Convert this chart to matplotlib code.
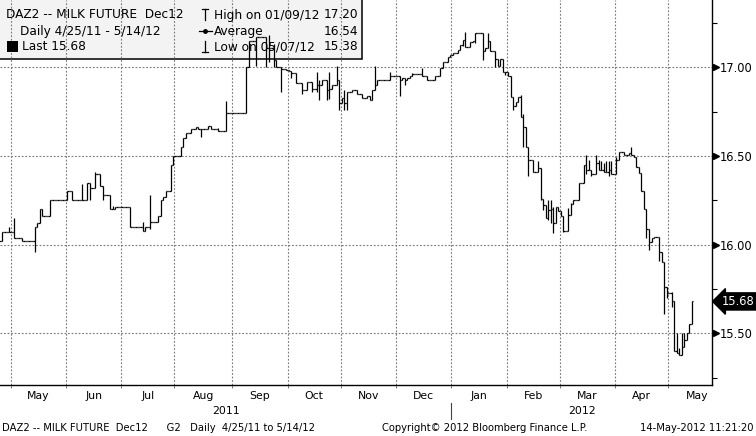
import matplotlib
matplotlib.use("Agg")
import matplotlib.pyplot as plt
import matplotlib.transforms as mtransforms
from matplotlib.patches import Rectangle
import numpy as np
import pandas as pd

# daily settles, one list per month (business days)
close_apr11 = [16.02, 16.07, 16.07, 16.07, 16.07]
close_may11 = [16.07, 16.04, 16.04, 16.04, 16.02, 16.02, 16.02, 16.02, 16.02, 16.10, 16.12,
               16.20, 16.16, 16.16, 16.16, 16.25, 16.25, 16.25, 16.25, 16.25, 16.25, 16.25]
close_jun11 = [16.30, 16.30, 16.25, 16.25, 16.25, 16.25, 16.25, 16.25, 16.35, 16.32, 16.32,
               16.40, 16.40, 16.33, 16.28, 16.28, 16.28, 16.20, 16.20, 16.21, 16.21, 16.21]
close_jul11 = [16.21, 16.21, 16.21, 16.10, 16.10, 16.10, 16.10, 16.10, 16.08, 16.10, 16.10,
               16.13, 16.13, 16.13, 16.16, 16.25, 16.27, 16.30, 16.30, 16.45, 16.50]
close_aug11 = [16.50, 16.50, 16.55, 16.60, 16.63, 16.63, 16.65, 16.65, 16.665, 16.65, 16.65, 16.65,
               16.65, 16.67, 16.65, 16.65, 16.65, 16.64, 16.64, 16.64, 16.74, 16.74, 16.74]
close_sep11 = [16.74, 16.74, 16.74, 16.74, 16.74, 17.00, 17.15, 17.15, 17.15, 17.17, 17.17,
               17.17, 17.17, 17.11, 17.11, 17.11, 17.04, 17.00, 17.00, 16.99, 16.99, 16.985]
close_oct11 = [16.98, 16.97, 16.97, 16.91, 16.91, 16.875, 16.875, 16.92, 16.92, 16.88, 16.88,
               16.90, 16.90, 16.93, 16.93, 16.87, 16.88, 16.90, 16.90, 16.93, 16.80]
close_nov11 = [16.83, 16.80, 16.86, 16.86, 16.87, 16.87, 16.85, 16.85, 16.83, 16.83, 16.84,
               16.815, 16.87, 16.90, 16.93, 16.93, 16.93, 16.93, 16.93, 16.95, 16.95, 16.95]
close_dec11 = [16.95, 16.93, 16.94, 16.93, 16.94, 16.95, 16.96, 16.965, 16.965, 16.965, 16.95,
               16.95, 16.93, 16.93, 16.93, 16.95, 16.95, 16.995, 17.03, 17.03, 17.06, 17.07]
close_jan12 = [17.08, 17.08, 17.10, 17.125, 17.155, 17.115, 17.115, 17.145, 17.15, 17.195, 17.195,
               17.195, 17.09, 17.11, 17.15, 17.09, 17.09, 17.05, 17.01, 17.05, 16.975, 16.975]
close_feb12 = [16.95, 16.835, 16.78, 16.805, 16.835, 16.72, 16.665, 16.55, 16.475, 16.475, 16.41,
               16.41, 16.43, 16.26, 16.225, 16.15, 16.195, 16.20, 16.12, 16.21, 16.19]
close_mar12 = [16.16, 16.08, 16.08, 16.17, 16.23, 16.25, 16.25, 16.35, 16.35, 16.45, 16.42,
               16.42, 16.40, 16.40, 16.46, 16.42, 16.42, 16.41, 16.41, 16.42, 16.40, 16.40]
close_apr12 = [16.475, 16.525, 16.52, 16.505, 16.505, 16.515, 16.505, 16.495, 16.44, 16.405, 16.30,
               16.20, 16.09, 16.015, 16.035, 16.045, 16.045, 15.96, 15.905, 15.76, 15.725]
close_may12 = [15.73, 15.685, 15.40, 15.387, 15.38, 15.424, 15.46, 15.50, 15.55, 15.68]

# days where the high / low pokes out past open and close
spike_high = {
    "2011-04-29": 16.10, "2011-05-03": 16.15, "2011-06-09": 16.34, "2011-06-16": 16.41,
    "2011-06-27": 16.22, "2011-07-13": 16.13, "2011-07-18": 16.28, "2011-08-24": 16.66,
    "2011-08-29": 16.81, "2011-09-21": 17.18, "2011-09-23": 17.13, "2011-10-18": 16.975,
    "2011-10-19": 16.93, "2011-10-25": 16.975, "2011-10-28": 17.01, "2011-11-02": 16.87,
    "2011-11-18": 17.01, "2011-11-28": 16.975, "2011-12-09": 16.97, "2011-12-15": 16.995,
    "2012-01-09": 17.20, "2012-01-20": 17.195, "2012-02-08": 16.845, "2012-02-09": 16.735,
    "2012-02-13": 16.49, "2012-02-17": 16.47, "2012-02-23": 16.25, "2012-02-24": 16.25,
    "2012-02-27": 16.21, "2012-03-02": 16.12, "2012-03-06": 16.205, "2012-03-07": 16.235,
    "2012-03-15": 16.505, "2012-03-16": 16.48, "2012-03-21": 16.505, "2012-03-22": 16.48,
    "2012-03-23": 16.47, "2012-03-26": 16.46, "2012-03-27": 16.47, "2012-03-28": 16.47,
    "2012-03-29": 16.47, "2012-04-02": 16.495, "2012-04-10": 16.55, "2012-04-25": 16.005,
    "2012-04-27": 15.83, "2012-04-30": 15.76, "2012-05-02": 15.735, "2012-05-04": 15.50,
    "2012-05-07": 15.42, "2012-05-08": 15.50, "2012-05-09": 15.50,
}
spike_low = {
    "2011-05-13": 15.96, "2011-06-14": 16.25, "2011-06-21": 16.25, "2011-07-18": 16.09,
    "2011-08-15": 16.61, "2011-09-14": 17.01, "2011-09-20": 17.00, "2011-09-21": 17.03,
    "2011-09-23": 17.00, "2011-09-28": 16.86, "2011-10-04": 16.94, "2011-10-10": 16.85,
    "2011-10-14": 16.86, "2011-10-18": 16.86, "2011-10-19": 16.815, "2011-10-24": 16.815,
    "2011-10-25": 16.82, "2011-10-31": 16.76, "2011-11-02": 16.76, "2011-11-03": 16.76,
    "2011-12-02": 16.84, "2011-12-06": 16.90, "2012-01-06": 17.12, "2012-01-13": 17.135,
    "2012-01-18": 17.04, "2012-01-25": 17.00, "2012-01-31": 16.955, "2012-02-03": 16.76,
    "2012-02-09": 16.55, "2012-02-13": 16.39, "2012-02-20": 16.25, "2012-02-21": 16.195,
    "2012-02-23": 16.14, "2012-02-24": 16.12, "2012-02-27": 16.065, "2012-03-02": 16.07,
    "2012-03-15": 16.40, "2012-03-19": 16.39, "2012-03-28": 16.39, "2012-04-02": 16.40,
    "2012-04-18": 16.035, "2012-04-19": 15.97, "2012-04-25": 15.91, "2012-04-27": 15.61,
    "2012-04-30": 15.70, "2012-05-02": 15.65, "2012-05-07": 15.38, "2012-05-11": 15.50,
}

y_ticks = [15.50, 16.00, 16.50, 17.00]
y_minor = [15.25, 15.75, 16.25, 16.75, 17.25]
year_labels = ["2011", "2012"]
last_price = "15.68"

legend_left = ["DAZ2 -- MILK FUTURE  Dec12", "Daily 4/25/11 - 5/14/12", "Last 15.68"]
legend_right = ["High on 01/09/12", "Average", "Low on 05/07/12"]
legend_vals = ["17.20", "16.54", "15.38"]
footer_left = "DAZ2 -- MILK FUTURE  Dec12      G2   Daily  4/25/11 to 5/14/12"
footer_mid = "Copyright\u00a9 2012 Bloomberg Finance L.P."
footer_right = "14-May-2012 11:21:20"

closes = np.array(close_apr11 + close_may11 + close_jun11 + close_jul11 + close_aug11
                  + close_sep11 + close_oct11 + close_nov11 + close_dec11 + close_jan12
                  + close_feb12 + close_mar12 + close_apr12 + close_may12)
days = pd.bdate_range("2011-04-25", periods=len(closes))
x = np.arange(len(closes))
opens = np.r_[closes[0], closes[:-1]]
highs = np.maximum(opens, closes)
lows = np.minimum(opens, closes)
for d, v in spike_high.items():
    i = days.get_loc(pd.Timestamp(d))
    highs[i] = max(highs[i], v)
for d, v in spike_low.items():
    i = days.get_loc(pd.Timestamp(d))
    lows[i] = min(lows[i], v)

# axis runs on to the end of May 2012
axis_days = pd.bdate_range("2011-04-25", "2012-05-31")
month_key = axis_days.year * 12 + axis_days.month
starts = np.flatnonzero(np.diff(month_key)) + 1
ends = np.r_[starts[1:], len(axis_days)]

W, H = 756, 436
AX_W, AX_H = 711.7, 385.3
fig = plt.figure(figsize=(W / 100, H / 100), dpi=100)
ax = fig.add_axes([0, 1 - AX_H / H, AX_W / W, AX_H / H])


def ax_px(px, py):
    # pixel position in the figure -> axes fraction
    return px / AX_W, 1 - py / AX_H


ax.set_xlim(0.25, 282.9)
ax.set_ylim(15.207, 17.380)

grid_kw = dict(color="#7a7a7a", lw=0.8, dashes=(1.6, 1.6), zorder=1)
for s in starts:
    ax.axvline(s - 0.5, **grid_kw)
for v in y_ticks:
    ax.axhline(v, **grid_kw)

bar_kw = dict(color="black", lw=0.9, zorder=3)
ax.vlines(x, lows, highs, **bar_kw)
ax.hlines(opens, x - 0.5, x, **bar_kw)
ax.hlines(closes, x, x + 0.5, **bar_kw)

# spines / ticks
for side in ["left", "top"]:
    ax.spines[side].set_visible(False)
for side in ["right", "bottom"]:
    ax.spines[side].set_linewidth(1.0)
ax.yaxis.tick_right()
ax.set_yticks(y_ticks)
ax.set_yticklabels(["%.2f" % v for v in y_ticks], fontsize=8.3)
ax.set_yticks(y_minor, minor=True)
ax.tick_params(axis="y", which="major", length=0, pad=6)
ax.tick_params(axis="y", which="minor", length=3.6, width=0.8, direction="out")
ax.set_xticks(starts - 0.5)
ax.set_xticklabels([])
ax.tick_params(axis="x", which="major", length=2.5, width=0.7, color="#7a7a7a")

ytrans = mtransforms.blended_transform_factory(ax.transAxes, ax.transData)
ax.plot([1 + 4 / AX_W] * len(y_ticks), y_ticks, ls="none", marker=">", ms=5,
        color="black", transform=ytrans, clip_on=False, zorder=5)

ax.text(1 + 10 / AX_W, 15.68, last_price, transform=ytrans, color="white", fontsize=8.3,
        va="center", ha="left", zorder=6,
        bbox=dict(boxstyle="larrow,pad=0.18", fc="black", ec="black"))

# month and year labels under the axis
xtrans = mtransforms.blended_transform_factory(ax.transData, ax.transAxes)
for s, e in zip(starts, ends):
    ax.annotate(axis_days[s].strftime("%b"), xy=((s + e) / 2 - 0.5, 0), xycoords=xtrans,
                xytext=(0, -11), textcoords="offset pixels", ha="center", va="center",
                fontsize=7.8, annotation_clip=False)
jan = starts[8] - 0.5
ax.annotate(year_labels[0], xy=((0.25 + jan) / 2, 0), xycoords=xtrans, xytext=(0, -26),
            textcoords="offset pixels", ha="center", va="center", fontsize=7.8,
            annotation_clip=False)
ax.annotate(year_labels[1], xy=((jan + 282.9) / 2, 0), xycoords=xtrans, xytext=(0, -26),
            textcoords="offset pixels", ha="center", va="center", fontsize=7.8,
            annotation_clip=False)
ax.plot([jan, jan], [1 - 403 / AX_H, 1 - 419 / AX_H], color="#444444", lw=0.8,
        transform=xtrans, clip_on=False)

# legend box top left
x0, y0 = ax_px(0, 59.3)
ax.add_patch(Rectangle((x0 - 0.002, y0), 363.3 / AX_W, 59.3 / AX_H + 0.01, transform=ax.transAxes,
                       fc="#f3f3f3", ec="black", lw=1.1, zorder=0.8, clip_on=False))
rows_y = [15, 31.5, 46.7]
txt_kw = dict(transform=ax.transAxes, fontsize=8.7, va="center", zorder=2.5)
ax.text(*ax_px(6, rows_y[0]), legend_left[0], ha="left", **txt_kw)
ax.text(*ax_px(20.5, rows_y[1]), legend_left[1], ha="left", **txt_kw)
ax.text(*ax_px(22.5, rows_y[2]), legend_left[2], ha="left", **txt_kw)
sx, sy = ax_px(6.7, 51.7)
ax.add_patch(Rectangle((sx, sy), 11.6 / AX_W, 11 / AX_H, transform=ax.transAxes,
                       fc="black", ec="none", zorder=2.5))
for i in range(3):
    ax.text(*ax_px(214, rows_y[i]), legend_right[i], ha="left", **txt_kw)
    ax.text(*ax_px(358.5, rows_y[i]), legend_vals[i], ha="right", **txt_kw)

sym_kw = dict(color="black", lw=0.9, transform=ax.transAxes, zorder=2.5)
# high symbol
ax.plot(*zip(ax_px(202.3, 9.3), ax_px(207.7, 9.3)), **sym_kw)
ax.plot(*zip(ax_px(205, 9.3), ax_px(205, 20.5)), **sym_kw)
# average symbol
ax.plot(*zip(ax_px(199, rows_y[1]), ax_px(211.5, rows_y[1])), **sym_kw)
ax.plot(*ax_px(205, rows_y[1]), marker="o", ms=2.5, color="black",
        transform=ax.transAxes, zorder=2.5)
# low symbol
ax.plot(*zip(ax_px(205, 41.5), ax_px(205, 51.7)), **sym_kw)
ax.plot(*zip(ax_px(202.3, 51.7), ax_px(207.7, 51.7)), **sym_kw)

# footer line
fy = 1 - 427.7 / H
fig.text(2 / W, fy, footer_left, fontsize=7.2, ha="left", va="center")
fig.text(382 / W, fy, footer_mid, fontsize=7.2, ha="left", va="center")
fig.text(754 / W, fy, footer_right, fontsize=7.2, ha="right", va="center")

fig.savefig("out.png", dpi=100)
